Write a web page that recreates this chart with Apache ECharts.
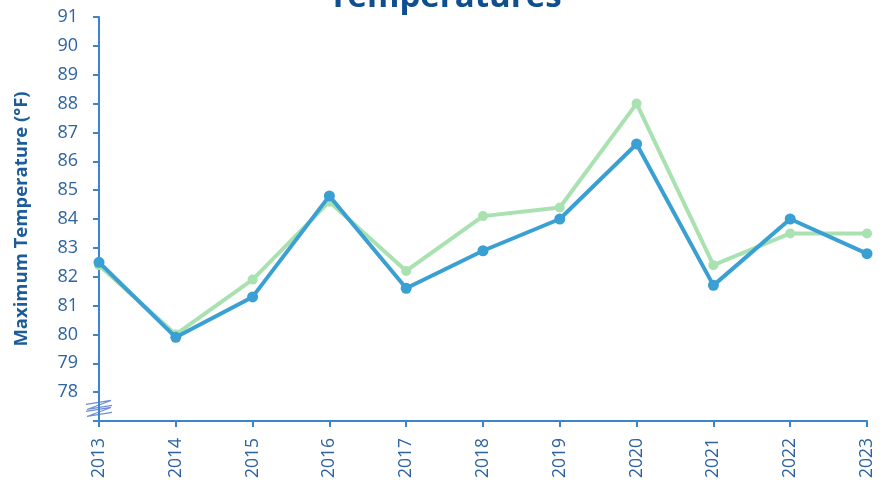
<!DOCTYPE html>
<html><head><meta charset="utf-8">
<script src="https://cdn.jsdelivr.net/npm/echarts@6/dist/echarts.min.js"></script>
<style>html,body{margin:0;padding:0;background:#fff}#c{width:890px;height:487px}</style>
</head><body><div id="c"></div>
<script>
const years = ['2013','2014','2015','2016','2017','2018','2019','2020','2021','2022','2023'];
const blueSeries = [82.5, 79.9, 81.3, 84.8, 81.6, 82.9, 84.0, 86.6, 81.7, 84.0, 82.8];
const greenSeries = [82.4, 80.0, 81.9, 84.6, 82.2, 84.1, 84.4, 88.0, 82.4, 83.5, 83.5];
const yMin = 77, yMax = 91;

const chart = echarts.init(document.getElementById('c'));
chart.setOption({
  animation: false,
  title: {
    text: 'Temperatures', left: 'center', top: -24,
    textStyle: {fontFamily: 'Open Sans', fontWeight: 'bold', fontSize: 33, color: '#0f4f8f'}
  },
  grid: {left: 99, right: 23, top: 17, bottom: 66, containLabel: false},
  xAxis: {
    type: 'category', data: years, boundaryGap: false,
    axisLine: {lineStyle: {color: '#3b86c8', width: 2}},
    axisTick: {alignWithLabel: true, length: 6, lineStyle: {color: '#3b86c8', width: 2}},
    axisLabel: {rotate: 90, fontFamily: 'Open Sans', fontSize: 17.5, color: '#2e63a0', margin: 17}
  },
  yAxis: {
    type: 'value', min: yMin, max: yMax, interval: 1,
    name: 'Maximum Temperature (°F)', nameLocation: 'middle', nameGap: 68, nameRotate: 90,
    nameTextStyle: {fontFamily: 'Open Sans', fontWeight: 'bold', fontSize: 18.5, color: '#1d5c9a'},
    axisLine: {show: true, lineStyle: {color: '#3b86c8', width: 2}},
    axisTick: {show: true, length: 6, lineStyle: {color: '#3b86c8', width: 2}},
    splitLine: {show: false},
    axisLabel: {fontFamily: 'Open Sans', fontSize: 18, color: '#2e63a0', margin: 21,
      formatter: v => v === yMin ? '' : String(v)}
  },
  series: [
    {type: 'line', data: greenSeries, symbol: 'circle', symbolSize: 10,
     lineStyle: {color: '#a9e1b1', width: 4}, itemStyle: {color: '#a9e1b1'}, z: 2},
    {type: 'line', data: blueSeries, symbol: 'circle', symbolSize: 11,
     lineStyle: {color: '#3a9fd2', width: 4}, itemStyle: {color: '#3a9fd2'}, z: 3}
  ]
});

// axis break symbol near the bottom of the y axis
const p = chart.convertToPixel({gridIndex: 0}, [0, yMin + 0.4]);
chart.setOption({graphic: [{
  type: 'group', x: p[0], y: p[1],
  children: [
    {type: 'polyline', shape: {points: [[-13,-5],[12,-9],[-12,0],[13,-4]]}, style: {stroke: '#6f8fd8', lineWidth: 1.2, fill: null}},
    {type: 'polyline', shape: {points: [[-13,2],[12,-2],[-12,7],[13,3]]}, style: {stroke: '#6f8fd8', lineWidth: 1.2, fill: null}}
  ]
}]});
</script></body></html>
